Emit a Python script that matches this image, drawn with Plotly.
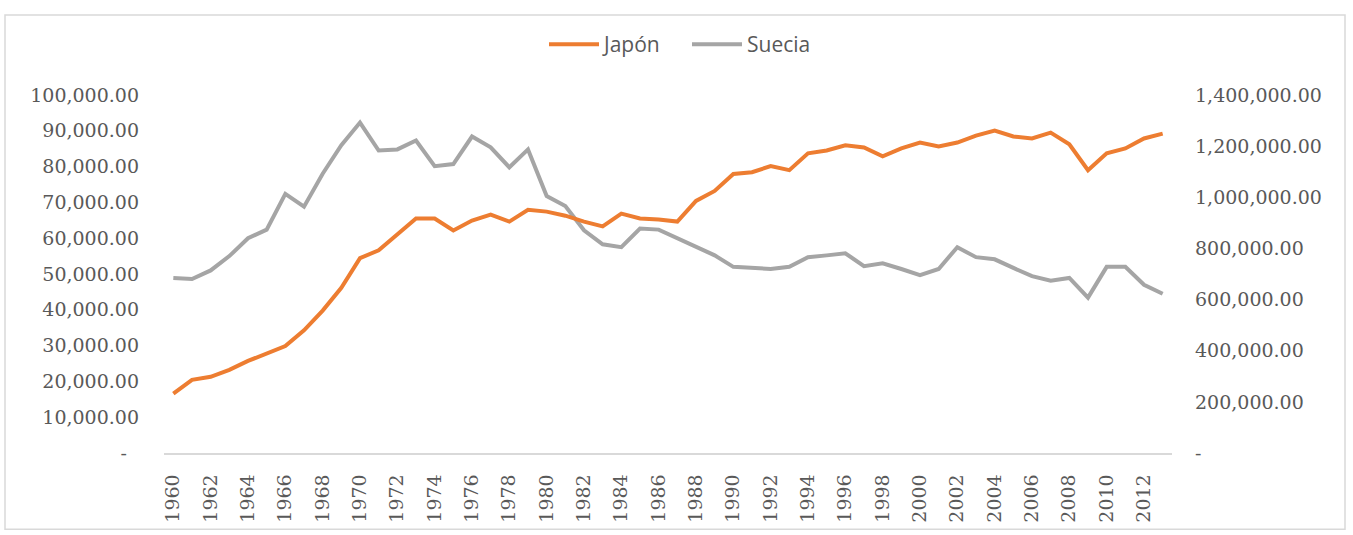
import plotly.graph_objects as go

years = list(range(1960, 2014))

# Japón (right axis)
japon = [232000, 286000, 298000, 325000, 360000, 387000, 418000, 480000, 557000, 646000,
         762000, 793000, 855000, 917000, 917000, 870000, 909000, 932000, 905000, 951000,
         944000, 928000, 905000, 886000, 936000, 917000, 913000, 905000, 986000, 1025000,
         1091000, 1098000, 1122000, 1106000, 1172000, 1183000, 1203000, 1195000, 1160000, 1191000,
         1214000, 1199000, 1214000, 1241000, 1261000, 1238000, 1230000, 1253000, 1207000, 1106000,
         1172000, 1191000, 1230000, 1249000]

# Suecia (left axis)
suecia = [48900, 48600, 51000, 55000, 60000, 62400, 72400, 68800, 78000, 86000,
          92300, 84500, 84800, 87300, 80100, 80700, 88400, 85400, 79800, 84800,
          71800, 69000, 62200, 58300, 57500, 62700, 62400, 60000, 57500, 55200,
          52000, 51700, 51400, 52000, 54700, 55200, 55800, 52200, 53000, 51400,
          49700, 51400, 57500, 54700, 54100, 51700, 49400, 48100, 48900, 43400,
          52000, 52000, 47000, 44500]

left_ticks = list(range(0, 100001, 10000))
right_ticks = list(range(0, 1400001, 200000))
left_text = ["-\u00a0\u00a0" if v == 0 else f"{v:,.2f}" for v in left_ticks]
right_text = ["-" if v == 0 else f"{v:,.2f}" for v in right_ticks]
x_ticks = list(range(1960, 2014, 2))

fig = go.Figure()
fig.add_trace(go.Scatter(x=years, y=japon, name="Japón", mode="lines",
                         line=dict(color="#ED7D31", width=4), yaxis="y2"))
fig.add_trace(go.Scatter(x=years, y=suecia, name="Suecia", mode="lines",
                         line=dict(color="#A5A5A5", width=4), yaxis="y"))

tick_font = dict(family="DejaVu Serif", size=19, color="#595959")

fig.update_layout(
    width=1353, height=535,
    margin=dict(l=164, r=181, t=95, b=78),
    paper_bgcolor="white", plot_bgcolor="white",
    showlegend=True,
    legend=dict(orientation="h", x=(544 - 164) / 1008, xanchor="left", y=1.141, yanchor="middle",
                font=dict(family="Open Sans", size=21, color="#595959"),
                itemwidth=50, entrywidth=78, entrywidthmode="pixels", traceorder="normal"),
    xaxis=dict(range=[1959.5, 2013.5], tickmode="array", tickvals=x_ticks,
               ticktext=[str(v) for v in x_ticks], tickangle=-90,
               tickfont=tick_font, showgrid=False, zeroline=False,
               showline=True, linecolor="#D9D9D9", linewidth=1.5,
               ticks="", ticklabelstandoff=12),
    yaxis=dict(range=[0, 100000], tickmode="array", tickvals=left_ticks,
               ticktext=left_text, tickfont=tick_font, showgrid=False,
               zeroline=False, showline=False, ticks="", ticklabelstandoff=24),
    yaxis2=dict(range=[0, 1400000], tickmode="array", tickvals=right_ticks,
                ticktext=right_text, tickfont=tick_font, showgrid=False,
                zeroline=False, showline=False, ticks="", overlaying="y",
                side="right", ticklabelstandoff=22),
    shapes=[dict(type="rect", xref="paper", yref="paper",
                 x0=(5 - 164) / 1008, x1=(1345 - 164) / 1008,
                 y0=(457 - 534) / 362, y1=(457 - 14) / 362,
                 line=dict(color="#D9D9D9", width=1.5), fillcolor="rgba(0,0,0,0)",
                 layer="below")],
)

fig.write_html("out.html", config={"displayModeBar": False},
               post_script="document.body.style.margin='0';document.body.style.overflow='hidden';")
